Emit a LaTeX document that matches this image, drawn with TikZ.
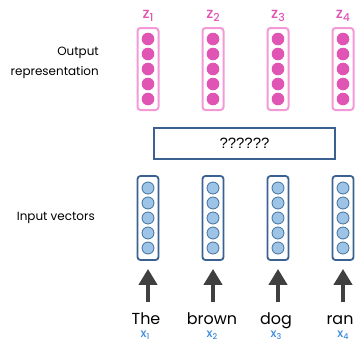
\documentclass[tikz,border=0pt]{standalone}
\usepackage{fontspec}
\setmainfont{Poppins}
\newfontfamily\boxfont{Liberation Sans}
\newfontfamily\labfont{Poppins Medium}
\usetikzlibrary{arrows.meta}

\definecolor{pinkdot}{HTML}{E055B4}
\definecolor{pinkline}{HTML}{F39AD6}
\definecolor{bluedot}{HTML}{9DC3E6}
\definecolor{blueline}{HTML}{41719C}
\definecolor{darkbox}{HTML}{3A6190}
\definecolor{arrowgray}{HTML}{404040}
\definecolor{xblue}{HTML}{3A8ADB}

% subscripts the way the labels show them
\newcommand{\lowidx}[1]{\raisebox{-3.5bp}{\fontsize{11}{12}\selectfont #1}}
\newcommand{\smallidx}[1]{\raisebox{-1.5bp}{\fontsize{8}{9}\selectfont #1}}

\tikzset{
    outvec/.style={draw=pinkline, line width=2bp, rounded corners=3bp,
        minimum width=21bp, minimum height=82bp, inner sep=0pt},
    invec/.style={draw=darkbox, line width=1.8bp, rounded corners=3bp,
        minimum width=21bp, minimum height=84bp, inner sep=0pt},
    word/.style={font=\fontsize{16}{18}\selectfont, inner sep=0pt,
        text height=12bp, text depth=3bp},
    zlabel/.style={font=\labfont\fontsize{15}{17}\selectfont, text=pinkdot, inner sep=0pt},
    xlabel/.style={font=\labfont\fontsize{12}{13}\selectfont, text=xblue, inner sep=0pt},
    side/.style={font=\fontsize{12}{20}\selectfont, align=right, inner sep=0pt},
    uparrow/.style={-{Triangle[width=18bp,length=16bp]}, line width=4bp, draw=arrowgray,
        shorten <=10bp, shorten >=8bp},
}

\begin{document}
\begin{tikzpicture}[x=1bp, y=-1bp]
    \useasboundingbox (0,0) rectangle (355,343);

    % output vectors
    \node[outvec] (out1) at (148, 69) {};
    \node[outvec] (out2) at (213, 69) {};
    \node[outvec] (out3) at (278, 69) {};
    \node[outvec] (out4) at (343, 69) {};
    \foreach \v in {out1,out2,out3,out4}
        \foreach \k in {-30,-15,0,15,30}
            \fill[pinkdot] ([yshift=\k bp]\v.center) circle (6.3bp);

    \node[zlabel] (z1) at (148, 16) {z\lowidx{1}};
    \node[zlabel] (z2) at (213, 16) {z\lowidx{2}};
    \node[zlabel] (z3) at (278, 16) {z\lowidx{3}};
    \node[zlabel] (z4) at (343, 16) {z\lowidx{4}};

    % the unknown layer in between
    \node[draw=darkbox, line width=2.2bp, minimum width=181bp, minimum height=31bp,
        font=\boxfont\fontsize{15}{17}\selectfont] (mix) at (244.5, 143.5) {??????};

    % input vectors
    \node[invec] (in1) at (148, 218) {};
    \node[invec] (in2) at (213, 218) {};
    \node[invec] (in3) at (278, 218) {};
    \node[invec] (in4) at (343, 218) {};
    \foreach \v in {in1,in2,in3,in4}
        \foreach \k in {-30,-15,0,15,30}
            \filldraw[fill=bluedot, draw=blueline, line width=0.8bp]
                ([yshift=\k bp]\v.center) circle (6bp);

    % words
    \node[word] (w1) at (146, 320) {The};
    \node[word] (w2) at (212, 320) {brown};
    \node[word] (w3) at (276, 320) {dog};
    \node[word] (w4) at (340, 320) {ran};

    \node[xlabel] (x1) at (145, 335) {x\smallidx{1}};
    \node[xlabel] (x2) at (212, 335) {x\smallidx{2}};
    \node[xlabel] (x3) at (276, 335) {x\smallidx{3}};
    \node[xlabel] (x4) at (343, 335) {x\smallidx{4}};

    \draw[uparrow] (w1.north -| in1) -- (in1.south);
    \draw[uparrow] (w2.north -| in2) -- (in2.south);
    \draw[uparrow] (w3.north -| in3) -- (in3.south);
    \draw[uparrow] (w4.north -| in4) -- (in4.south);

    % row captions
    \node[side, anchor=east] (outcap) at (99, 63) {Output\\representation};
    \node[side, anchor=east] (incap) at (95, 218) {Input vectors};
\end{tikzpicture}
\end{document}
